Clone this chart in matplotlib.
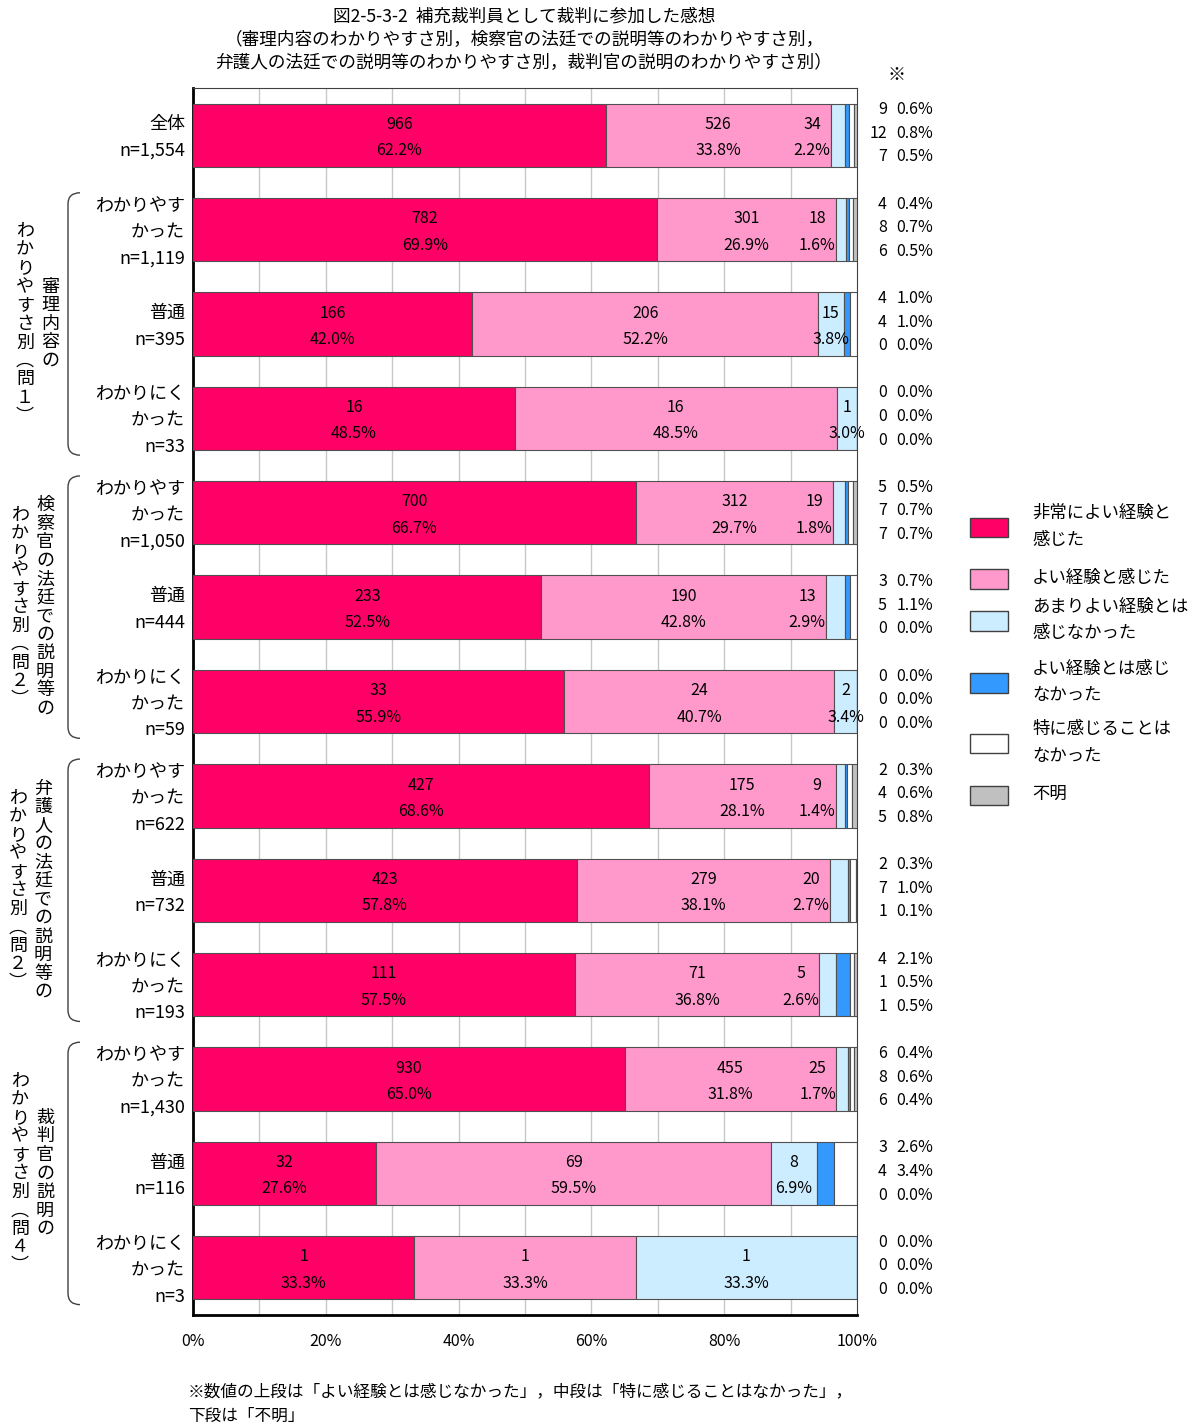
import matplotlib
matplotlib.use('Agg')
import matplotlib.pyplot as plt
from matplotlib.patches import Rectangle
from matplotlib.path import Path
from matplotlib.patches import PathPatch
from matplotlib.transforms import blended_transform_factory
import numpy as np

plt.rcParams['font.family'] = ['Noto Sans CJK JP', 'DejaVu Sans']

categories = ['非常によい経験と感じた', 'よい経験と感じた', 'あまりよい経験とは感じなかった',
              'よい経験とは感じなかった', '特に感じることはなかった', '不明']
legend_labels = ['非常によい経験と\n感じた', 'よい経験と感じた', 'あまりよい経験とは\n感じなかった',
                 'よい経験とは感じ\nなかった', '特に感じることは\nなかった', '不明']
colors = ['#FF0066', '#FF99CC', '#CCECFF', '#3399FF', '#FFFFFF', '#C0C0C0']

row_labels = [
    ['全体', 'n=1,554'],
    ['わかりやす', 'かった', 'n=1,119'],
    ['普通', 'n=395'],
    ['わかりにく', 'かった', 'n=33'],
    ['わかりやす', 'かった', 'n=1,050'],
    ['普通', 'n=444'],
    ['わかりにく', 'かった', 'n=59'],
    ['わかりやす', 'かった', 'n=622'],
    ['普通', 'n=732'],
    ['わかりにく', 'かった', 'n=193'],
    ['わかりやす', 'かった', 'n=1,430'],
    ['普通', 'n=116'],
    ['わかりにく', 'かった', 'n=3'],
]

counts = [
    [966, 526, 34, 9, 12, 7],
    [782, 301, 18, 4, 8, 6],
    [166, 206, 15, 4, 4, 0],
    [16, 16, 1, 0, 0, 0],
    [700, 312, 19, 5, 7, 7],
    [233, 190, 13, 3, 5, 0],
    [33, 24, 2, 0, 0, 0],
    [427, 175, 9, 2, 4, 5],
    [423, 279, 20, 2, 7, 1],
    [111, 71, 5, 4, 1, 1],
    [930, 455, 25, 6, 8, 6],
    [32, 69, 8, 3, 4, 0],
    [1, 1, 1, 0, 0, 0],
]

pcts = [
    [62.2, 33.8, 2.2, 0.6, 0.8, 0.5],
    [69.9, 26.9, 1.6, 0.4, 0.7, 0.5],
    [42.0, 52.2, 3.8, 1.0, 1.0, 0.0],
    [48.5, 48.5, 3.0, 0.0, 0.0, 0.0],
    [66.7, 29.7, 1.8, 0.5, 0.7, 0.7],
    [52.5, 42.8, 2.9, 0.7, 1.1, 0.0],
    [55.9, 40.7, 3.4, 0.0, 0.0, 0.0],
    [68.6, 28.1, 1.4, 0.3, 0.6, 0.8],
    [57.8, 38.1, 2.7, 0.3, 1.0, 0.1],
    [57.5, 36.8, 2.6, 2.1, 0.5, 0.5],
    [65.0, 31.8, 1.7, 0.4, 0.6, 0.4],
    [27.6, 59.5, 6.9, 2.6, 3.4, 0.0],
    [33.3, 33.3, 33.3, 0.0, 0.0, 0.0],
]

groups = [
    # (first row, last row, right column, left column)
    (1, 3, '審理内容の', 'わかりやすさ別︵問１︶'),
    (4, 6, '検察官の法廷での説明等の', 'わかりやすさ別︵問２︶'),
    (7, 9, '弁護人の法廷での説明等の', 'わかりやすさ別︵問２︶'),
    (10, 12, '裁判官の説明の', 'わかりやすさ別︵問４︶'),
]

W, H = 1195, 1426
fig = plt.figure(figsize=(W / 100, H / 100), dpi=100)


def fx(x):
    return x / W


def fy(y):
    return 1 - y / H


ax = fig.add_axes([fx(193), fy(1315), fx(857) - fx(193), fy(88) - fy(1315)])

cnt = np.array(counts, dtype=float)
share = cnt / cnt.sum(axis=1, keepdims=True) * 100
ypos = np.arange(len(counts))
left = np.zeros(len(counts))
for j in range(len(categories)):
    ax.barh(ypos, share[:, j], left=left, height=0.67, color=colors[j],
            edgecolor='#505050', linewidth=0.8, zorder=3)
    left += share[:, j]

# labels inside the bars
ly = 0.14
dy = 0.025
for i in range(len(counts)):
    start = 0.0
    for j in range(3):
        w = share[i, j]
        if counts[i][j] > 0:
            if j == 2 and pcts[i][j] < 3.0:
                xc = start - 2.8
            else:
                xc = start + w / 2
            ax.text(xc, i - ly + dy, str(counts[i][j]), ha='center', va='center', fontsize=11.5, zorder=5)
            ax.text(xc, i + ly + dy, '%.1f%%' % pcts[i][j], ha='center', va='center', fontsize=11.5, zorder=5)
        start += w
    # small categories listed at the right
    for k, off in zip(range(3, 6), [-0.27, -0.02, 0.23]):
        ax.text(104.5, i + off, str(counts[i][k]), ha='right', va='center', fontsize=11.5, clip_on=False)
        ax.text(111.5, i + off, '%.1f%%' % pcts[i][k], ha='right', va='center', fontsize=11.5, clip_on=False)

ax.set_xlim(0, 100)
ax.set_ylim(len(counts) - 0.5, -0.5)
ax.set_xticks(np.arange(0, 101, 20))
ax.set_xticklabels(['%d%%' % v for v in range(0, 101, 20)], fontsize=11.5)
ax.tick_params(axis='x', length=0, pad=13)
ax.set_yticks([])
for v in range(10, 100, 10):
    ax.axvline(v, color='#C8C8C8', linewidth=1, zorder=1)
ax.spines['left'].set_linewidth(2)
ax.spines['bottom'].set_linewidth(2)
ax.spines['top'].set_color('#404040')
ax.spines['right'].set_color('#404040')

# row labels
tr = blended_transform_factory(fig.transFigure, ax.transData)
for i, lines in enumerate(row_labels):
    n = len(lines)
    for k, t in enumerate(lines):
        off = (k - (n - 1) / 2) * 0.28
        ax.text(fx(185), i + off + dy, t, transform=tr, ha='right', va='center', fontsize=13)

# group brackets and vertical captions
col_x = [(25, 50), (20, 45), (18, 43), (20, 45)]
pitch = 18.5 / 94.4
for (g0, g1, right, leftcol), (xl, xr) in zip(groups, col_x):
    top = g0 - 0.39
    bot = g1 + 0.39
    x0, x1 = fx(68), fx(80)
    verts = [(x1, top), (x0, top), (x0, top + 0.12), (x0, bot - 0.12), (x0, bot), (x1, bot)]
    codes = [Path.MOVETO, Path.CURVE3, Path.CURVE3, Path.LINETO, Path.CURVE3, Path.CURVE3]
    fig.patches.append(PathPatch(Path(verts, codes), transform=tr, fill=False,
                                 edgecolor='#404040', linewidth=1))
    yc = (g0 + g1) / 2
    for col, xc in [(right, xr), (leftcol, xl)]:
        for k, ch in enumerate(col):
            yy = yc + (k - (len(col) - 1) / 2) * pitch
            ax.text(fx(xc), yy, ch, transform=tr, ha='center', va='center', fontsize=13)

# legend
patch_y = [527, 579, 621, 683, 743, 795]
for c, lab, py in zip(colors, legend_labels, patch_y):
    fig.patches.append(Rectangle((fx(970), fy(py + 9.5)), fx(38), 19 / H, transform=fig.transFigure,
                                 facecolor=c, edgecolor='#404040', linewidth=1))
    nl = lab.count('\n') + 1
    for k, t in enumerate(lab.split('\n')):
        yy = py + (k - (nl - 1) / 2) * 27 - 1
        fig.text(fx(1032), fy(yy), t, ha='left', va='center', fontsize=12.5)

# titles and notes
title_lines = ['図2-5-3-2  補充裁判員として裁判に参加した感想',
               '（審理内容のわかりやすさ別，検察官の法廷での説明等のわかりやすさ別，',
               '弁護人の法廷での説明等のわかりやすさ別，裁判官の説明のわかりやすさ別）']
for t, yy in zip(title_lines, [16, 40, 63]):
    fig.text(fx(524), fy(yy), t, ha='center', va='center', fontsize=12.7)
fig.text(fx(897), fy(75), '※', ha='center', va='center', fontsize=13)
fig.text(fx(188), fy(1392), '※数値の上段は「よい経験とは感じなかった」，中段は「特に感じることはなかった」，',
         ha='left', va='center', fontsize=12)
fig.text(fx(188), fy(1416), '下段は「不明」', ha='left', va='center', fontsize=12)

fig.savefig('out.png', dpi=100)
